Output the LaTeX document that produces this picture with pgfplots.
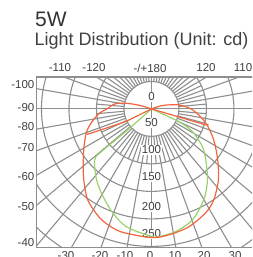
\documentclass[border=0pt]{standalone}
\usepackage{fontspec}
\setmainfont{Liberation Sans}
\usepackage{pgfplots}
\usepackage{pgfplotstable}
\pgfplotsset{compat=1.18}
\definecolor{gridc}{HTML}{8E8E8E}
\definecolor{txt}{HTML}{404040}
\definecolor{redc}{HTML}{F2643C}
\definecolor{greenc}{HTML}{97D26C}

\pgfplotstableread{
a r
-108 0
-106.7 22
-102.5 48
-97.8 67
-90 81
-85.6 94
-80.7 104.5
-74 118.6
-68.4 128.5
-58.8 143.9
-50.6 160.4
-43.6 178.4
-35 202
-25.4 219.3
-18 227.5
-12.2 230.6
0 234
7.8 231.3
17.5 225
27.6 213
34.4 200.5
43.3 177.5
52.4 152
63.5 126.5
75.5 102
88.6 75
98.3 50
107 21.5
108 0
}\redouter

\pgfplotstableread{
a r
-62 0
-63.7 52
-67.8 109
-68.4 126
}\redinl

\pgfplotstableread{
a r
72 0
73.6 103
74.5 108
}\redinr

\pgfplotstableread{
a r
-48.6 0
-48.6 62
-49.5 122
-48 139
-37.8 163
-28.9 182
-20.3 202
-12 219
0 232
3.3 232.5
11.2 227.4
20.3 215
29.9 190.8
38.3 164.4
46.8 135.4
53.5 115.3
61 85.2
65 54.8
66 0
}\greenmain

\begin{document}
\begin{tikzpicture}[x=1pt,y=1pt]
\useasboundingbox (0,0) rectangle (252,257);
\clip (0,0) rectangle (252,257);
\begin{axis}[
  anchor=south west, at={(36.5pt,9.5pt)},
  x=0.55pt, y=0.55pt,
  xmin=-209, xmax=209, ymin=-252, ymax=58,
  axis line style={gridc, line width=1.3pt},
  ticks=none,
  clip=true,
]
\pgfplotsinvokeforeach{1,...,7}{
  \draw[gridc, line width=1.1pt] (axis cs:0,0) circle[radius=27.5*#1 pt];
}
\pgfplotsinvokeforeach{5,15,...,355}{
  \draw[gridc, line width=1.1pt] (axis cs:{50*sin(#1)},{-50*cos(#1)}) -- (axis cs:{100*sin(#1)},{-100*cos(#1)});
}
\pgfplotsinvokeforeach{0,10,...,350}{
  \draw[gridc, line width=1.1pt] (axis cs:{50*sin(#1)},{-50*cos(#1)}) -- (axis cs:{600*sin(#1)},{-600*cos(#1)});
}
\draw[gridc, line width=1.1pt] (axis cs:-300,0) -- (axis cs:300,0);
\draw[gridc, line width=1.1pt] (axis cs:0,-300) -- (axis cs:0,100);
\node[fill=white, inner sep=0.8pt, text=txt, font=\fontsize{11.5}{12}\selectfont] at (axis cs:0,21.8) {0};
\node[fill=white, inner sep=0.8pt, text=txt, font=\fontsize{11.5}{12}\selectfont] at (axis cs:0,-25.5) {50};
\node[fill=white, inner sep=0.8pt, text=txt, font=\fontsize{11.5}{12}\selectfont] at (axis cs:0,-74.5) {100};
\node[fill=white, inner sep=0.8pt, text=txt, font=\fontsize{11.5}{12}\selectfont] at (axis cs:0,-123.6) {150};
\node[fill=white, inner sep=0.8pt, text=txt, font=\fontsize{11.5}{12}\selectfont] at (axis cs:0,-178) {200};
\node[fill=white, inner sep=0.8pt, text=txt, font=\fontsize{11.5}{12}\selectfont] at (axis cs:0,-227) {250};
\addplot[greenc, line width=1.2pt, smooth, tension=0.5] table[x expr={\thisrow{r}*sin(\thisrow{a})}, y expr={-\thisrow{r}*cos(\thisrow{a})}] {\greenmain};
\addplot[redc, line width=1.2pt, smooth, tension=0.5] table[x expr={\thisrow{r}*sin(\thisrow{a})}, y expr={-\thisrow{r}*cos(\thisrow{a})}] {\redouter};
\addplot[redc, line width=1.2pt] table[x expr={\thisrow{r}*sin(\thisrow{a})}, y expr={-\thisrow{r}*cos(\thisrow{a})}] {\redinl};
\addplot[redc, line width=1.2pt] table[x expr={\thisrow{r}*sin(\thisrow{a})}, y expr={-\thisrow{r}*cos(\thisrow{a})}] {\redinr};
\end{axis}
\node[anchor=base west, inner sep=0, text=black!80, font=\fontsize{21}{21}\selectfont] at (35,230) {5W};
\node[anchor=base west, inner sep=0, text=txt, font=\fontsize{18}{18}\selectfont] at (34.5,211.5) {Light Distribution (Unit: cd)};
\begin{scope}[every node/.style={text=txt, font=\fontsize{11.5}{12}\selectfont, inner sep=0}]
\node at (60,189) {-110};
\node at (94,189) {-120};
\node at (150,189) {-/+180};
\node at (206,189) {120};
\node at (243,189) {110};
\node[anchor=east] at (34.5,172) {-100};
\node[anchor=east] at (34.5,149) {-90};
\node[anchor=east] at (34.5,130.3) {-80};
\node[anchor=east] at (34.5,109) {-70};
\node[anchor=east] at (34.5,80.3) {-60};
\node[anchor=east] at (34.5,50.3) {-50};
\node[anchor=east] at (34.5,14.5) {-40};
\node at (66,1) {-30};
\node at (100,1) {-20};
\node at (125,1) {-10};
\node at (150,1) {0};
\node at (175,1) {10};
\node at (204,1) {20};
\node at (235,1) {30};
\end{scope}
\end{tikzpicture}
\end{document}
